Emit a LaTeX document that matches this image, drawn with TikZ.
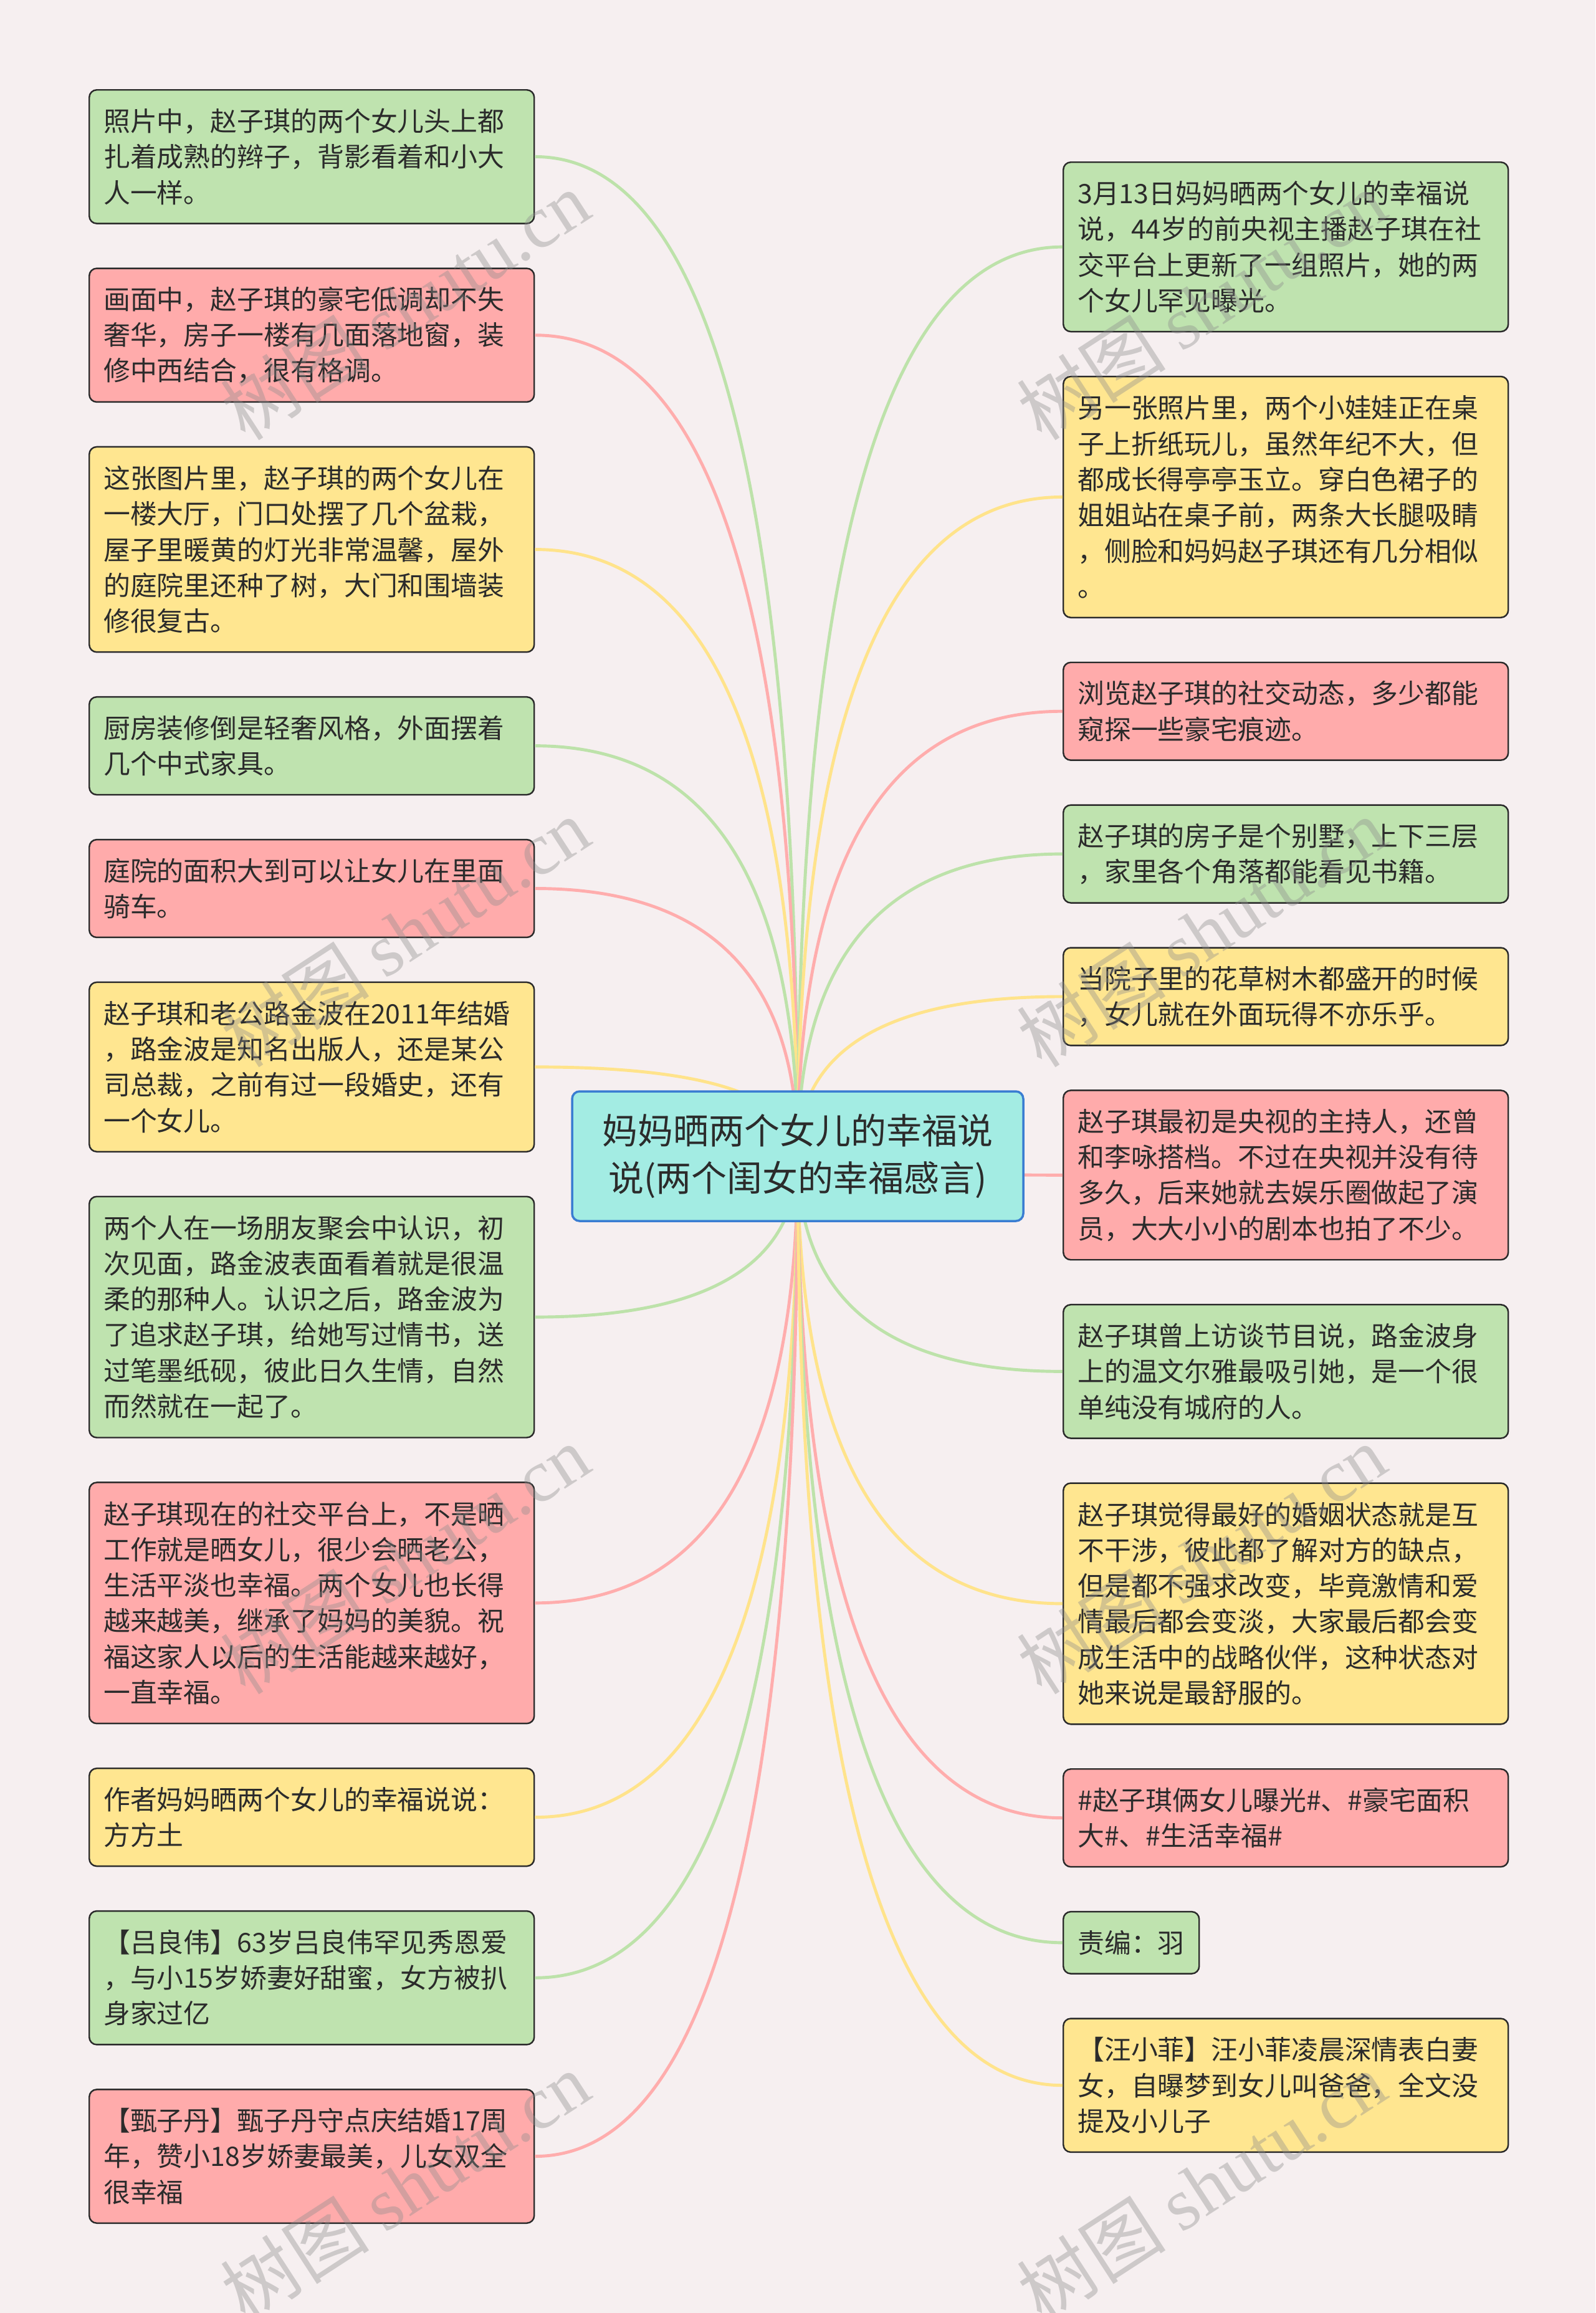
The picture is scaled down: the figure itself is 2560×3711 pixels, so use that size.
\documentclass[tikz,border=0pt]{standalone}
\usepackage{fontspec}
\setmainfont{Noto Sans CJK SC}
\newfontfamily\markfont{Liberation Serif}
\usetikzlibrary{positioning,calc}
\definecolor{paper}{HTML}{F6EFF0}
\definecolor{inktext}{HTML}{2B2B2B}
\definecolor{inkline}{HTML}{2A2A2A}
\definecolor{fillgreen}{HTML}{BFE3AF}
\definecolor{fillpink}{HTML}{FFABAB}
\definecolor{fillyellow}{HTML}{FFE690}
\definecolor{fillroot}{HTML}{A3ECE3}
\definecolor{rootline}{HTML}{3A7DD2}
\definecolor{linkgreen}{HTML}{BDE2AA}
\definecolor{linkpink}{HTML}{FFADAD}
\definecolor{linkyellow}{HTML}{FFE38B}
\tikzset{%
	leaf/.style={rectangle, rounded corners=1.2mm, draw=inkline, line width=0.7pt, text width=66.8mm, minimum width=71.4mm, inner xsep=2.3mm, inner ysep=1pt, align=left, text=inktext, font=\fontsize{12.2pt}{16.3pt}\selectfont},
	lines/.style={minimum height=4.2mm+#1*5.746mm},
	greenbox/.style={leaf, fill=fillgreen},
	pinkbox/.style={leaf, fill=fillpink},
	yellowbox/.style={leaf, fill=fillyellow},
	topic/.style={rectangle, rounded corners=1.2mm, draw=rootline, line width=1pt, fill=fillroot, minimum width=72.4mm, minimum height=20.8mm, align=center, text=inktext, font=\fontsize{16.2pt}{21.6pt}\selectfont},
	link/.style={line width=1.4pt, to path={.. controls ($(\tikztostart)!2/3!(\tikztostart |- \tikztotarget)$) and ($(\tikztotarget)!2/3!(\tikztostart |- \tikztotarget)$) .. (\tikztotarget)}},
	wmark/.style={text=black!45, text opacity=0.38, font=\fontsize{34pt}{34pt}\selectfont, rotate=33}
}
\begin{document}
\begin{tikzpicture}[x=0.1mm, y=-0.1mm, node distance=6.95mm]
\fill[paper] (0,0) rectangle (2560,3711);
\useasboundingbox (0,0) rectangle (2560,3711);

% left branch
\node (l_braids) [greenbox, lines=3, anchor=north west] at (142,143) {照片中，赵子琪的两个女儿头上都\\扎着成熟的辫子，背影看着和小大\\人一样。};
\node (l_mansion) [pinkbox, lines=3, below=of l_braids] {画面中，赵子琪的豪宅低调却不失\\奢华，房子一楼有几面落地窗，装\\修中西结合，很有格调。};
\node (l_hall) [yellowbox, lines=5, below=of l_mansion] {这张图片里，赵子琪的两个女儿在\\一楼大厅，门口处摆了几个盆栽，\\屋子里暖黄的灯光非常温馨，屋外\\的庭院里还种了树，大门和围墙装\\修很复古。};
\node (l_kitchen) [greenbox, lines=2, below=of l_hall] {厨房装修倒是轻奢风格，外面摆着\\几个中式家具。};
\node (l_yard) [pinkbox, lines=2, below=of l_kitchen] {庭院的面积大到可以让女儿在里面\\骑车。};
\node (l_wedding) [yellowbox, lines=4, below=of l_yard] {赵子琪和老公路金波在2011年结婚\\，路金波是知名出版人，还是某公\\司总裁，之前有过一段婚史，还有\\一个女儿。};
\node (l_meet) [greenbox, lines=6, below=of l_wedding] {两个人在一场朋友聚会中认识，初\\次见面，路金波表面看着就是很温\\柔的那种人。认识之后，路金波为\\了追求赵子琪，给她写过情书，送\\过笔墨纸砚，彼此日久生情，自然\\而然就在一起了。};
\node (l_social) [pinkbox, lines=6, below=of l_meet] {赵子琪现在的社交平台上，不是晒\\工作就是晒女儿，很少会晒老公，\\生活平淡也幸福。两个女儿也长得\\越来越美，继承了妈妈的美貌。祝\\福这家人以后的生活能越来越好，\\一直幸福。};
\node (l_author) [yellowbox, lines=2, below=of l_social] {作者妈妈晒两个女儿的幸福说说：\\方方土};
\node (l_lv) [greenbox, lines=3, below=of l_author] {【吕良伟】63岁吕良伟罕见秀恩爱\\，与小15岁娇妻好甜蜜，女方被扒\\身家过亿};
\node (l_zhen) [pinkbox, lines=3, below=of l_lv] {【甄子丹】甄子丹守点庆结婚17周\\年，赞小18岁娇妻最美，儿女双全\\很幸福};

% right branch
\node (r_post) [greenbox, lines=4, anchor=north west] at (1705,259) {3月13日妈妈晒两个女儿的幸福说\\说，44岁的前央视主播赵子琪在社\\交平台上更新了一组照片，她的两\\个女儿罕见曝光。};
\node (r_origami) [yellowbox, lines=6, below=of r_post] {另一张照片里，两个小娃娃正在桌\\子上折纸玩儿，虽然年纪不大，但\\都成长得亭亭玉立。穿白色裙子的\\姐姐站在桌子前，两条大长腿吸睛\\，侧脸和妈妈赵子琪还有几分相似\\。};
\node (r_browse) [pinkbox, lines=2, below=of r_origami] {浏览赵子琪的社交动态，多少都能\\窥探一些豪宅痕迹。};
\node (r_villa) [greenbox, lines=2, below=of r_browse] {赵子琪的房子是个别墅，上下三层\\，家里各个角落都能看见书籍。};
\node (r_garden) [yellowbox, lines=2, below=of r_villa] {当院子里的花草树木都盛开的时候\\，女儿就在外面玩得不亦乐乎。};
\node (r_host) [pinkbox, lines=4, below=of r_garden] {赵子琪最初是央视的主持人，还曾\\和李咏搭档。不过在央视并没有待\\多久，后来她就去娱乐圈做起了演\\员，大大小小的剧本也拍了不少。};
\node (r_interview) [greenbox, lines=3, below=of r_host] {赵子琪曾上访谈节目说，路金波身\\上的温文尔雅最吸引她，是一个很\\单纯没有城府的人。};
\node (r_view) [yellowbox, lines=6, below=of r_interview] {赵子琪觉得最好的婚姻状态就是互\\不干涉，彼此都了解对方的缺点，\\但是都不强求改变，毕竟激情和爱\\情最后都会变淡，大家最后都会变\\成生活中的战略伙伴，这种状态对\\她来说是最舒服的。};
\node (r_tags) [pinkbox, lines=2, below=of r_view] {\#赵子琪俩女儿曝光\#、\#豪宅面积\\大\#、\#生活幸福\#};
\node (r_editor) [greenbox, lines=1, text width=17.2mm, minimum width=21.5mm, below=of r_tags.south west, anchor=north west] {责编：羽};
\node (r_wang) [yellowbox, lines=3, below=of r_editor.south west, anchor=north west] {【汪小菲】汪小菲凌晨深情表白妻\\女，自曝梦到女儿叫爸爸，全文没\\提及小儿子};

% connectors
\coordinate (hub) at (1280,1855);
\draw[link, linkgreen] (hub) to (l_braids.east);
\draw[link, linkpink] (hub) to (l_mansion.east);
\draw[link, linkyellow] (hub) to (l_hall.east);
\draw[link, linkgreen] (hub) to (l_kitchen.east);
\draw[link, linkpink] (hub) to (l_yard.east);
\draw[link, linkyellow] (hub) to (l_wedding.east);
\draw[link, linkgreen] (hub) to (l_meet.east);
\draw[link, linkpink] (hub) to (l_social.east);
\draw[link, linkyellow] (hub) to (l_author.east);
\draw[link, linkgreen] (hub) to (l_lv.east);
\draw[link, linkpink] (hub) to (l_zhen.east);
\draw[link, linkgreen] (hub) to (r_post.west);
\draw[link, linkyellow] (hub) to (r_origami.west);
\draw[link, linkpink] (hub) to (r_browse.west);
\draw[link, linkgreen] (hub) to (r_villa.west);
\draw[link, linkyellow] (hub) to (r_garden.west);
\draw[link, linkpink] (hub) to (r_host.west);
\draw[link, linkgreen] (hub) to (r_interview.west);
\draw[link, linkyellow] (hub) to (r_view.west);
\draw[link, linkpink] (hub) to (r_tags.west);
\draw[link, linkgreen] (hub) to (r_editor.west);
\draw[link, linkyellow] (hub) to (r_wang.west);

\node (root) [topic] at (hub) {妈妈晒两个女儿的幸福说\\说(两个闺女的幸福感言)};

% watermarks
\node (wm_a) [wmark] at (650,490) {树图 {\markfont shutu.cn}};
\node (wm_b) [wmark] at (650,1496) {树图 {\markfont shutu.cn}};
\node (wm_c) [wmark] at (650,2502) {树图 {\markfont shutu.cn}};
\node (wm_d) [wmark] at (650,3508) {树图 {\markfont shutu.cn}};
\node (wm_e) [wmark] at (1928,490) {树图 {\markfont shutu.cn}};
\node (wm_f) [wmark] at (1928,1496) {树图 {\markfont shutu.cn}};
\node (wm_g) [wmark] at (1928,2502) {树图 {\markfont shutu.cn}};
\node (wm_h) [wmark] at (1928,3508) {树图 {\markfont shutu.cn}};
\end{tikzpicture}
\end{document}
